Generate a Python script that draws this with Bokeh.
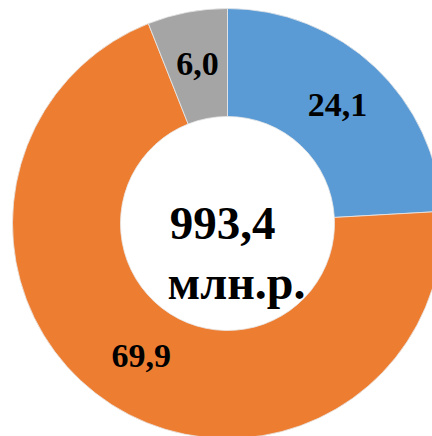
import math
from bokeh.plotting import figure
from bokeh.models import ColumnDataSource
from bokeh.core.properties import value
from bokeh.embed import file_html
from bokeh.resources import INLINE

# data
categories = ["A", "B", "C"]
shares = [24.1, 69.9, 6.0]
share_labels = ["24,1", "69,9", "6,0"]
colors = ["#5B9BD5", "#ED7D31", "#A5A5A5"]
total_label = "993,4"
unit_label = "млн.р."

W, H = 432, 436
cx, cy = 227, 213
r_out, r_in, r_lab = 215, 107, 160

total = sum(shares)
starts, ends, lx, ly = [], [], [], []
cum = 0.0
for s in shares:
    a0 = math.pi / 2 - 2 * math.pi * cum / total
    cum += s
    a1 = math.pi / 2 - 2 * math.pi * cum / total
    starts.append(a1)
    ends.append(a0)
    mid = (a0 + a1) / 2
    lx.append(cx + r_lab * math.cos(mid))
    ly.append(cy + r_lab * math.sin(mid) + 2)

src = ColumnDataSource(dict(cat=categories, start=starts, end=ends, color=colors,
                            lx=lx, ly=ly, lab=share_labels))

p = figure(width=W, height=H, x_range=(0, W), y_range=(0, H),
           output_backend="svg", toolbar_location=None,
           x_axis_location=None, y_axis_location=None, min_border=0)
p.outline_line_color = None
p.grid.visible = False
p.background_fill_color = "white"

p.annular_wedge(x=cx, y=cy, inner_radius=r_in, outer_radius=r_out,
                inner_radius_units="screen", outer_radius_units="screen",
                start_angle="start", end_angle="end", fill_color="color",
                line_color="#E8E8E8", line_width=0.8, source=src)

p.text(x="lx", y="ly", text="lab", source=src, text_align="center",
       text_baseline="middle", text_font=value("Liberation Serif"),
       text_font_style="bold", text_font_size="34px", text_color="black")

p.text(x=[cx - 5], y=[cy], text=[total_label], text_align="center",
       text_baseline="alphabetic", text_font=value("Liberation Serif"),
       text_font_style="bold", text_font_size="47px", text_color="black")
p.text(x=[cx + 9], y=[cy - 59], text=[unit_label], text_align="center",
       text_baseline="alphabetic", text_font=value("Liberation Serif"),
       text_font_style="bold", text_font_size="48px", text_color="black")

open("out.html", "w").write(file_html(p, INLINE))
